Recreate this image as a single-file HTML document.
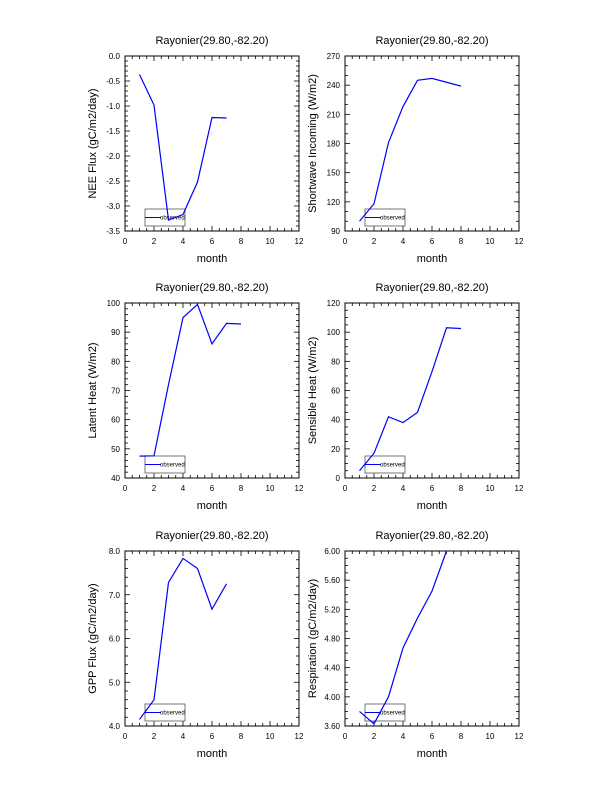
<!DOCTYPE html>
<html><head><meta charset="utf-8"><style>
body{margin:0;background:#fff}
svg{display:block;font-family:"Liberation Sans",sans-serif}
</style></head><body>
<svg id="c" width="612" height="792"></svg>
<script>
const months=[1,2,3,4,5,6,7,8];
const neeVals=[-0.37,-0.98,-3.28,-3.17,-2.52,-1.23,-1.24];
const swVals=[100,118,181,218,245,247,243,239];
const leVals=[47.5,47.6,72,95,99.5,86,93,92.8];
const shVals=[5,17,42,38,45,73,103,102.5];
const gppVals=[4.15,4.6,7.28,7.83,7.6,6.67,7.25];
const respVals=[3.80,3.63,4.0,4.67,5.08,5.45,6.0];
const xTicks=[0,2,4,6,8,10,12];
const neeTicks=["-3.5","-3.0","-2.5","-2.0","-1.5","-1.0","-0.5","0.0"];
const swTicks=["90","120","150","180","210","240","270"];
const leTicks=["40","50","60","70","80","90","100"];
const shTicks=["0","20","40","60","80","100","120"];
const gppTicks=["4.0","5.0","6.0","7.0","8.0"];
const respTicks=["3.60","4.00","4.40","4.80","5.20","5.60","6.00"];
const panels=[
 {name:"nee",x:125,y:56,vals:neeVals,ticks:neeTicks,minor:5,label:"NEE Flux (gC/m2/day)"},
 {name:"shortwave",x:345,y:56,vals:swVals,ticks:swTicks,minor:3,label:"Shortwave Incoming (W/m2)"},
 {name:"latent-heat",x:125,y:303,vals:leVals,ticks:leTicks,minor:5,label:"Latent Heat (W/m2)"},
 {name:"sensible-heat",x:345,y:303,vals:shVals,ticks:shTicks,minor:4,label:"Sensible Heat (W/m2)"},
 {name:"gpp",x:125,y:551,vals:gppVals,ticks:gppTicks,minor:5,label:"GPP Flux (gC/m2/day)"},
 {name:"respiration",x:345,y:551,vals:respVals,ticks:respTicks,minor:4,label:"Respiration (gC/m2/day)"}
];
const W=174,H=175,NS="http://www.w3.org/2000/svg";
const svg=document.getElementById('c');
function mk(t,a,p){const e=document.createElementNS(NS,t);for(const k in a)e.setAttribute(k,a[k]);(p||svg).appendChild(e);return e;}
panels.forEach(p=>{
 const g=mk('g',{});
 
 
 const ymin=parseFloat(p.ticks[0]),ymax=parseFloat(p.ticks[p.ticks.length-1]);
 const sx=v=>p.x+v/12*W, sy=v=>p.y+H-(v-ymin)/(ymax-ymin)*H;
 const t=mk('text',{x:p.x+W/2,y:p.y-12,'text-anchor':'middle','font-size':11},g);t.textContent="Rayonier(29.80,-82.20)";
 
 mk('rect',{x:p.x,y:p.y,width:W,height:H,fill:'none',stroke:'#000','stroke-width':1},g);
 for(let m=0;m<=12;m+=0.5){const X=sx(m),maj=m%2===0,L=maj?5:3;
  mk('line',{x1:X,x2:X,y1:p.y+H,y2:p.y+H-L,stroke:'#000','stroke-width':0.8},g);
  mk('line',{x1:X,x2:X,y1:p.y,y2:p.y+L,stroke:'#000','stroke-width':0.8},g);}
 xTicks.forEach(v=>{const e=mk('text',{x:sx(v),y:p.y+H+13,'text-anchor':'middle','font-size':8},g);e.textContent=v;
  });
 const step=(ymax-ymin)/(p.ticks.length-1);
 for(let i=0;i<p.ticks.length;i++){const v=ymin+i*step,Y=sy(v);
  [p.x,p.x+W].forEach((X,j)=>{const d=j?-1:1;mk('line',{x1:X,x2:X+d*5,y1:Y,y2:Y,stroke:'#000','stroke-width':0.8},g);
   if(i<p.ticks.length-1)for(let k=1;k<p.minor;k++){const y2=sy(v+step*k/p.minor);mk('line',{x1:X,x2:X+d*3,y1:y2,y2:y2,stroke:'#000','stroke-width':0.8},g);}});
  const e=mk('text',{x:p.x-5,y:Y+3,'text-anchor':'end','font-size':8},g);e.textContent=p.ticks[i];
  }
 const xl=mk('text',{x:p.x+W/2,y:p.y+H+31,'text-anchor':'middle','font-size':11},g);xl.textContent="month";
 
 const yl=mk('text',{x:0,y:0,'text-anchor':'middle','font-size':11,transform:`translate(${p.x-29},${p.y+H/2}) rotate(-90)`},g);yl.textContent=p.label;
 
 const lb=mk('rect',{x:p.x+20,y:p.y+H-22,width:40,height:17,fill:'#fff',stroke:'#555','stroke-width':0.8},g);
 
 mk('line',{x1:p.x+20,x2:p.x+36,y1:p.y+H-13.5,y2:p.y+H-13.5,stroke:'#00f','stroke-width':1},g);
 const lt=mk('text',{x:p.x+35,y:p.y+H-11.5,'font-size':6},g);lt.textContent="observed";
 
 const pts=p.vals.map((v,i)=>sx(months[i])+','+sy(v)).join(' ');
 const pl=mk('polyline',{points:pts,fill:'none',stroke:'#00f','stroke-width':1.2},g);
 
});
</script>
</body></html>
